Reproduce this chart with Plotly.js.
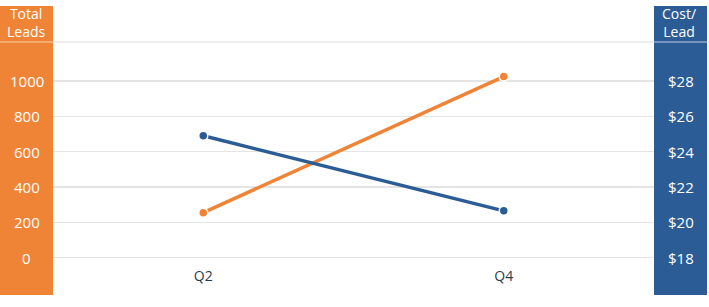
<!DOCTYPE html>
<html>
<head>
<meta charset="utf-8">
<script src="https://cdn.plot.ly/plotly-3.0.1.min.js"></script>
<style>
  html, body { margin: 0; padding: 0; background: #ffffff; }
  #chart { width: 709px; height: 307px; }
</style>
</head>
<body>
<div id="chart"></div>
<script>
// ---- data ----
const quarters = ['Q2', 'Q4'];
const totalLeads = [255, 1025];
const costPerLead = [24.9, 20.65];
const leadTicks = [0, 200, 400, 600, 800, 1000];
const leadTickLabels = ['0', '200', '400', '600', '800', '1000'];
const costTicks = [18, 20, 22, 24, 26, 28];
const costTickLabels = ['$18', '$20', '$22', '$24', '$26', '$28'];
const leftHeader = 'Total<br>Leads';
const rightHeader = 'Cost/<br>Lead';

// ---- style ----
const ORANGE = '#EF8436';
const BLUE = '#2C5C96';
const W = 709, H = 307;
const M = { l: 53, r: 55, t: 42, b: 45 };
const PW = W - M.l - M.r;
const PH = H - M.t - M.b;
const FONT = 'Open Sans, sans-serif';

const bandTop = 1 + (M.t - 6) / PH;
const bandBottom = -(H - 12 - (H - M.b)) / PH;
const bandW = 53 / PW;

const traces = [
  {
    x: quarters, y: costPerLead, yaxis: 'y2', type: 'scatter', mode: 'lines+markers',
    line: { color: BLUE, width: 3.5 },
    marker: { color: BLUE, size: 9, line: { color: '#ffffff', width: 1.5 } },
    hoverinfo: 'skip'
  },
  {
    x: quarters, y: totalLeads, yaxis: 'y', type: 'scatter', mode: 'lines+markers',
    line: { color: ORANGE, width: 3.5 },
    marker: { color: ORANGE, size: 9, line: { color: '#ffffff', width: 1.5 } },
    hoverinfo: 'skip'
  }
];

const annotations = [];
leadTicks.forEach((v, i) => annotations.push({
  xref: 'paper', yref: 'y', x: -26.5 / PW, y: v, text: leadTickLabels[i],
  showarrow: false, xanchor: 'center', yanchor: 'middle',
  font: { family: FONT, size: 15, color: '#ffffff' }
}));
costTicks.forEach((v, i) => annotations.push({
  xref: 'paper', yref: 'y2', x: 1 + 26.5 / PW, y: v, text: costTickLabels[i],
  showarrow: false, xanchor: 'center', yanchor: 'middle',
  font: { family: FONT, size: 15, color: '#ffffff' }
}));
annotations.push({
  xref: 'paper', yref: 'paper', x: -26.5 / PW, y: 1 + 19 / PH, text: leftHeader,
  showarrow: false, xanchor: 'center', yanchor: 'middle', align: 'center',
  font: { family: FONT, size: 14, color: '#ffffff' }
});
annotations.push({
  xref: 'paper', yref: 'paper', x: 1 + 25 / PW, y: 1 + 19 / PH, text: rightHeader,
  showarrow: false, xanchor: 'center', yanchor: 'middle', align: 'center',
  font: { family: FONT, size: 14, color: '#ffffff' }
});

const shapes = [
  { type: 'rect', xref: 'paper', yref: 'paper', x0: -bandW, x1: 0, y0: bandBottom, y1: bandTop,
    fillcolor: ORANGE, line: { width: 0 }, layer: 'below' },
  { type: 'rect', xref: 'paper', yref: 'paper', x0: 1, x1: 1 + bandW, y0: bandBottom, y1: bandTop,
    fillcolor: BLUE, line: { width: 0 }, layer: 'below' },
  { type: 'line', xref: 'paper', yref: 'paper', x0: 0, x1: 1, y0: 1, y1: 1,
    line: { color: '#e6e6e6', width: 1.5 } },
  { type: 'line', xref: 'paper', yref: 'paper', x0: -bandW, x1: 0, y0: 1, y1: 1,
    line: { color: '#F6B887', width: 1.5 } },
  { type: 'line', xref: 'paper', yref: 'paper', x0: 1, x1: 1 + bandW, y0: 1, y1: 1,
    line: { color: '#8EA6CA', width: 1.5 } }
];

const layout = {
  width: W, height: H,
  margin: M,
  paper_bgcolor: '#ffffff', plot_bgcolor: '#ffffff',
  showlegend: false,
  xaxis: {
    type: 'category', range: [-0.5, 1.5], showgrid: false, zeroline: false,
    showline: false, ticks: '', ticklabelstandoff: 4,
    tickfont: { family: FONT, size: 14, color: '#2f3b48' }
  },
  yaxis: {
    range: [-(H - M.b - 257.7) * 1000 / 176.7, (257.7 - M.t) * 1000 / 176.7],
    tickvals: leadTicks, showticklabels: false, ticks: '',
    showgrid: true, gridcolor: '#e4e4e4', gridwidth: 1.3, zeroline: false, showline: false
  },
  yaxis2: {
    overlaying: 'y', side: 'right',
    range: [18 - (H - M.b - 257.7) * 10 / 176.7, 18 + (257.7 - M.t) * 10 / 176.7],
    tickvals: costTicks, showticklabels: false, ticks: '',
    showgrid: false, zeroline: false, showline: false
  },
  shapes: shapes,
  annotations: annotations
};

Plotly.newPlot('chart', traces, layout, { displayModeBar: false, staticPlot: true });
</script>
</body>
</html>
